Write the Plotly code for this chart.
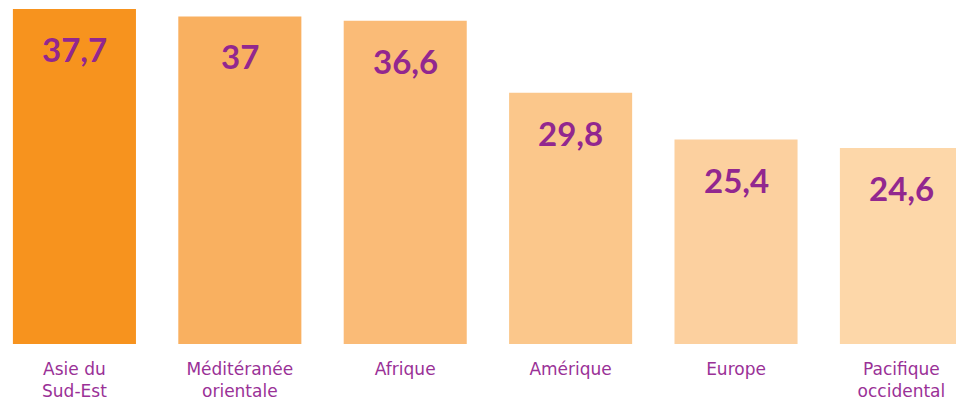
import plotly.graph_objects as go

categories = ["Asie du<br>Sud-Est", "Méditéranée<br>orientale", "Afrique", "Amérique", "Europe", "Pacifique<br>occidental"]
values = [37.7, 37.0, 36.6, 29.8, 25.4, 24.6]
value_labels = ["37,7", "37", "36,6", "29,8", "25,4", "24,6"]
colors = ["#F7931E", "#F9B060", "#FABB77", "#FBC78B", "#FCD09F", "#FDD7A9"]

xs = list(range(len(categories)))
purple = "#92278F"

fig = go.Figure()
fig.add_trace(go.Bar(
    x=xs, y=values, width=0.744,
    marker=dict(color=colors, line=dict(width=0)),
    hoverinfo="skip",
))

for x, v, t in zip(xs, values, value_labels):
    fig.add_annotation(x=x, y=v, text=t, showarrow=False, yanchor="middle", yshift=-40,
                       font=dict(family="Lato, DejaVu Sans, sans-serif", size=33, color=purple, weight="bold"))

fig.update_layout(
    width=956, height=400,
    margin=dict(l=0, r=0, t=0, b=56),
    paper_bgcolor="white", plot_bgcolor="white",
    showlegend=False,
    xaxis=dict(range=[-0.45, 5.33], tickmode="array", tickvals=xs, ticktext=categories,
               showgrid=False, zeroline=False, showline=False, ticks="",
               tickfont=dict(family="DejaVu Sans, sans-serif", size=17, color="#9A3197"),
               ticklabelstandoff=13),
    yaxis=dict(range=[6.13, 38.55], visible=False, showgrid=False, zeroline=False),
)

fig.write_html("out.html")
